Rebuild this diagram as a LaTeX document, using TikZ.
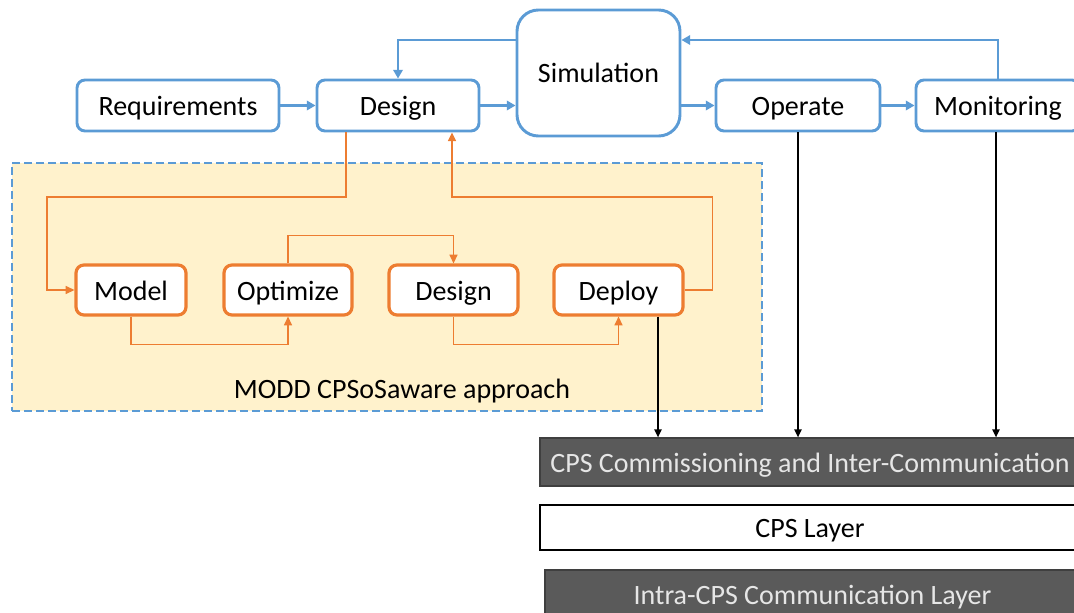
\documentclass[tikz,border=0pt]{standalone}
\usepackage{fontspec}
\setmainfont{Carlito}
\usetikzlibrary{arrows.meta}
\definecolor{cblue}{HTML}{5B9BD5}
\definecolor{corange}{HTML}{ED7D31}
\definecolor{cyellow}{HTML}{FFF2CC}
\definecolor{cdark}{HTML}{5A5A5A}
\definecolor{cdarkline}{HTML}{3F3F3F}
\definecolor{clighttext}{HTML}{E6E6E6}
\tikzset{
  txt/.style={font=\fontsize{21}{25}\selectfont, text height=17pt, text depth=2pt},
  lbl/.style={txt, text=black},
  bluebox/.style={lbl, draw=cblue, line width=2.2pt, fill=white, rounded corners=6pt,
    minimum height=38.25pt, inner sep=0pt},
  orangebox/.style={lbl, draw=corange, line width=2.4pt, fill=white, rounded corners=6pt,
    minimum height=37.5pt, inner sep=0pt},
  group/.style={draw=cblue, line width=1.8pt, dash pattern=on 6pt off 3pt, fill=cyellow,
    inner sep=0pt},
  darklayer/.style={txt, text=clighttext, fill=cdark,
    draw=cdarkline, line width=1pt, inner sep=0pt},
  lightlayer/.style={txt, fill=white, draw=black,
    line width=1.6pt, inner sep=0pt},
  barrow/.style={draw=cblue, line width=2.2pt, -{Triangle[length=6.5pt,width=7pt]}},
  oarrow/.style={draw=corange, line width=1.1pt, -{Triangle[length=6.5pt,width=6pt]}},
  karrow/.style={draw=black, line width=1pt, -{Triangle[length=6pt,width=5.5pt]}},
}
\begin{document}
\begin{tikzpicture}[x=0.75pt, y=-0.75pt]
\useasboundingbox (0,0) rectangle (1074,613);

% MODD group background
\node[group, minimum width=562.5pt, minimum height=186pt] (grp) at (387,287) {};
\node[lbl] (grplbl) at (402,388) {MODD CPSoSaware approach};

% top process chain
\node[bluebox, minimum width=151.5pt] (req) at (178,105.5) {Requirements};
\node[bluebox, minimum width=121.5pt] (des) at (398,105.5) {Design};
\node[bluebox, minimum width=122.25pt, minimum height=94.5pt, rounded corners=16pt] (sim) at (598.5,73) {Simulation};
\node[bluebox, minimum width=123pt] (op) at (798,105.5) {Operate};
\node[bluebox, minimum width=123pt] (mon) at (998,105.5) {Monitoring};

% MODD inner loop
\node[orangebox, minimum width=82.5pt] (model) at (131,290) {Model};
\node[orangebox, minimum width=96pt] (opt) at (288,290) {Optimize};
\node[orangebox, minimum width=96.75pt] (des2) at (453.5,290) {Design};
\node[orangebox, minimum width=96.75pt] (dep) at (618.5,290) {Deploy};

% layers
\node[darklayer, minimum width=405pt, minimum height=36pt] (comm) at (810,462) {CPS Commissioning and Inter-Communication};
\node[lightlayer, minimum width=405pt, minimum height=33.75pt] (cps) at (810,527.5) {CPS Layer};
\node[darklayer, minimum width=401.25pt, minimum height=36pt] (intra) at (812.5,594) {Intra-CPS Communication Layer};

% helper coordinates for routed connectors
\coordinate (fb) at (0,40);
\coordinate (ltop) at (47,197);
\coordinate (odown) at (346,197);
\coordinate (rtop) at (452,197);
\coordinate (k1) at (658,0);

% top chain connectors
\draw[barrow] (req.east) -- (des.west);
\draw[barrow] (des.east) -- (des.east -| sim.west);
\draw[barrow] (sim.east |- op.west) -- (op.west);
\draw[barrow] (op.east) -- (mon.west);
\draw[barrow] (sim.west |- fb) -| (des.north);
\draw[barrow] (mon.north) |- (sim.east |- fb);

% inner loop connectors
\draw[oarrow] (des.south -| odown) |- (ltop) |- (model.west);
\draw[oarrow] (model.south) -- ++(0,28) -| (opt.south);
\draw[oarrow] (opt.north) -- ++(0,-28) -| (des2.north);
\draw[oarrow] (des2.south) -- ++(0,28) -| (dep.south);
\draw[oarrow] (dep.east) -- ++(28,0) |- (rtop) -- (des.south -| rtop);

% links down to the commissioning layer
\draw[karrow] (dep.south -| k1) -- (comm.north -| k1);
\draw[karrow] (op.south) -- (comm.north -| op.south);
\draw[karrow] ([xshift=-1.5pt]mon.south) -- ([xshift=-1.5pt]comm.north -| mon.south);
\end{tikzpicture}
\end{document}
